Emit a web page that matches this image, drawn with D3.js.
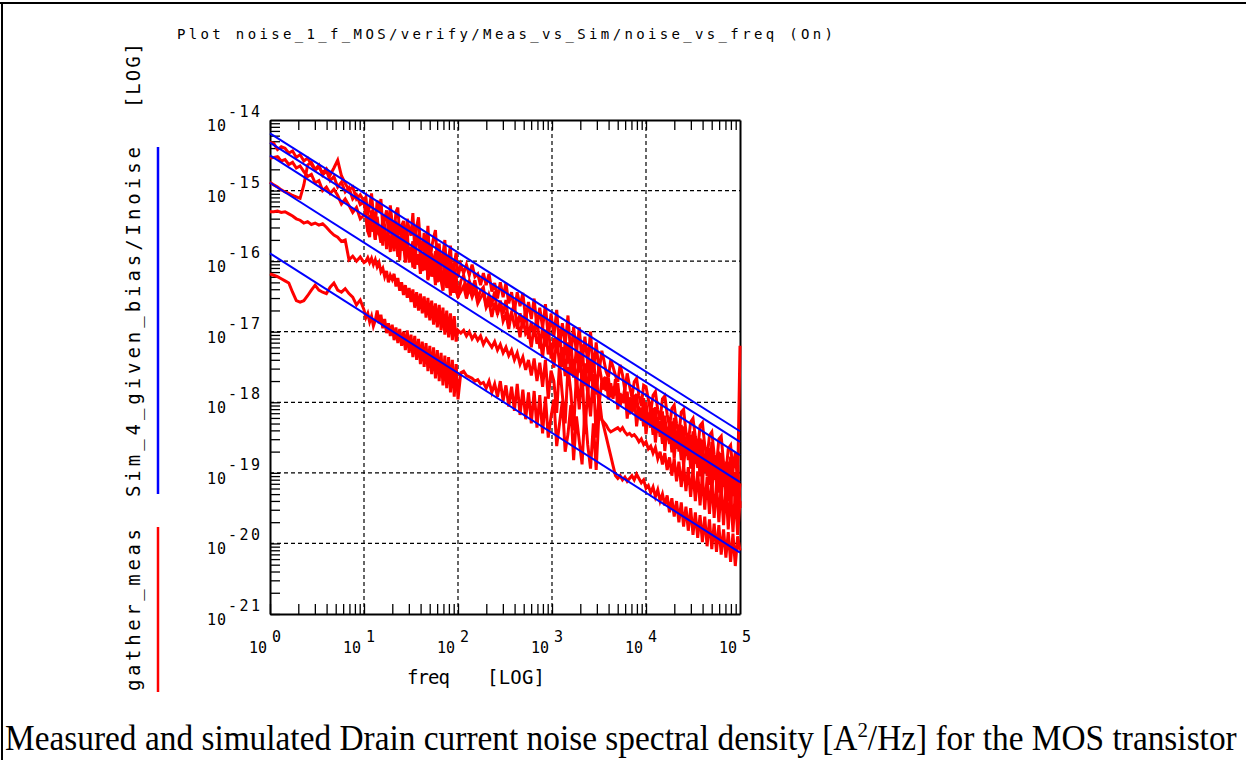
<!DOCTYPE html>
<html>
<head>
<meta charset="utf-8">
<style>
body { margin: 0; background: #fff; }
svg { display: block; }
.mono { font-family: "DejaVu Sans Mono", monospace; fill: #000; }
.caption { font-family: "Liberation Serif", "Times New Roman", serif; fill: #000; }
</style>
</head>
<body>
<script src="https://d3js.org/d3.v7.min.js"></script>
<svg id="chart" width="1246" height="760"></svg>
<script>
// tick labels
const xDecades = [1, 10, 100, 1000, 10000, 100000];
const xExp = ["0", "1", "2", "3", "4", "5"];
const yDecades = [1e-14, 1e-15, 1e-16, 1e-17, 1e-18, 1e-19, 1e-20, 1e-21];
const yExp = ["-14", "-15", "-16", "-17", "-18", "-19", "-20", "-21"];

// simulated noise (straight lines on log-log), value at 1 Hz and 100 kHz
const simFreq = [1, 1e5];
const sim1 = [6.46e-15, 3.89e-19];
const sim2 = [4.79e-15, 2.75e-19];
const sim3 = [3.16e-15, 1.78e-19];
const sim4 = [1.29e-15, 7.41e-20];
const sim5 = [1.29e-16, 7.41e-21];

// measured noise: log10(freq) and log10(noise)
const logFreq = [0,0.04,0.08,0.12,0.16,0.2,0.24,0.28,0.32,0.36,0.4,0.44,0.48,0.52,0.56,0.6,0.64,0.68,0.72,0.76,0.8,0.84,0.88,0.92,0.96,1,
1.02,1.04,1.06,1.08,1.1,1.12,1.14,1.16,1.18,1.2,1.22,1.24,1.26,1.28,1.3,1.32,1.34,1.36,1.38,1.4,1.42,1.44,1.46,1.48,1.5,1.52,1.54,1.56,1.58,1.6,1.62,1.64,1.66,1.68,1.7,1.72,1.74,1.76,1.78,1.8,1.82,1.84,1.86,1.88,1.9,1.92,1.94,1.96,1.98,2,
2.03,2.06,2.09,2.12,2.15,2.18,2.21,2.24,2.27,2.3,2.33,2.36,2.39,2.42,2.45,2.48,2.51,2.54,2.57,2.6,2.63,2.66,2.69,2.72,2.75,2.78,2.81,2.84,2.87,2.9,2.93,2.96,2.99,3.02,3.05,3.08,3.11,3.14,3.17,3.2,3.23,3.26,3.29,3.32,3.35,3.38,3.41,3.44,3.47,3.5,3.53,
3.55,3.575,3.6,3.625,3.65,3.675,3.7,3.725,3.75,3.775,3.8,3.825,3.85,3.875,3.9,3.925,3.95,3.975,4,4.025,4.05,4.075,4.1,4.125,4.15,4.175,4.2,4.225,4.25,4.275,4.3,4.325,4.35,4.375,4.4,4.425,4.45,4.475,4.5,4.525,4.55,4.575,4.6,4.625,4.65,4.675,4.7,4.725,4.75,4.775,4.8,4.825,4.85,4.875,4.9,4.925,4.95,4.975,5];

const meas1 = [-14.32,-14.33,-14.42,-14.38,-14.40,-14.47,-14.44,-14.53,-14.49,-14.58,-14.54,-14.63,-14.71,-14.67,-14.75,-14.69,-14.78,-14.68,-14.57,-14.79,-14.90,-14.99,-14.95,-15.12,-15.06,-15.15,
-15.09,-15.35,-15.22,-15.04,-15.34,-15.49,-15.14,-15.30,-15.12,-15.52,-15.40,-15.28,-15.62,-15.21,-15.46,-15.64,-15.30,-15.24,-15.63,-15.50,-15.43,-15.82,-15.40,-15.55,-15.64,-15.32,-15.85,-15.51,-15.38,-15.75,-15.86,-15.60,-15.93,-15.50,-16.05,-15.80,-15.67,-15.56,-16.02,-15.75,-16.11,-15.90,-15.70,-16.20,-15.95,-15.78,-16.31,-16.05,-15.88,-16.22,
-16.05,-16.17,-16.05,-16.20,-16.05,-16.22,-16.18,-16.34,-16.17,-16.34,-16.18,-16.43,-16.31,-16.53,-16.30,-16.51,-16.31,-16.60,-16.44,-16.71,-16.44,-16.64,-16.45,-16.83,-16.58,-16.82,-16.53,-16.95,-16.66,-16.95,-16.61,-17.09,-16.74,-17.07,-16.69,-17.22,-16.88,-17.19,-16.77,-17.34,-16.93,-17.31,-16.94,-17.46,-17.07,-17.45,-17.00,-17.58,-17.15,-17.58,-17.27,
-17.39,-17.56,-17.65,-17.40,-17.50,-17.62,-17.71,-17.47,-17.61,-17.83,-17.59,-17.77,-17.93,-17.71,-17.66,-17.90,-18.05,-17.76,-17.78,-17.96,-18.14,-17.90,-17.85,-18.11,-18.25,-17.95,-17.91,-18.17,-18.35,-18.09,-18.04,-18.30,-18.46,-18.14,-18.10,-18.42,-18.57,-18.28,-18.23,-18.49,-18.69,-18.33,-18.29,-18.61,-18.79,-18.47,-18.42,-18.74,-18.90,-18.52,-18.48,-18.86,-19.01,-18.66,-18.61,-18.97,-18.71,-19.15,-17.20];

const meas2 = [-14.54,-14.53,-14.52,-14.58,-14.56,-14.63,-14.60,-14.68,-14.65,-14.73,-14.80,-14.77,-14.89,-14.86,-15.00,-14.95,-15.04,-14.98,-15.07,-15.19,-15.12,-15.21,-15.31,-15.24,-15.40,-15.35,
-15.32,-15.58,-15.66,-15.28,-15.44,-15.70,-15.37,-15.59,-15.74,-15.35,-15.50,-15.83,-15.60,-15.45,-15.67,-15.86,-15.43,-15.62,-15.99,-15.53,-15.84,-15.63,-15.58,-16.02,-15.86,-15.72,-16.11,-15.69,-15.64,-15.95,-16.14,-15.86,-15.75,-16.27,-16.11,-15.89,-16.14,-15.86,-16.30,-15.91,-16.27,-16.42,-15.87,-16.04,-16.30,-15.98,-16.45,-16.07,-16.43,-16.50,
-16.43,-16.35,-16.53,-16.38,-16.51,-16.40,-16.60,-16.52,-16.45,-16.66,-16.58,-16.79,-16.59,-16.74,-16.60,-16.85,-16.75,-16.96,-16.72,-16.91,-16.84,-17.08,-16.79,-17.03,-16.98,-17.22,-16.91,-17.17,-17.04,-17.37,-16.97,-17.32,-17.16,-17.51,-17.09,-17.46,-17.22,-17.63,-17.15,-17.60,-17.39,-17.77,-17.28,-17.72,-17.45,-17.89,-17.40,-17.86,-17.61,-18.04,-17.70,
-17.67,-17.84,-17.66,-17.93,-17.78,-17.90,-17.73,-18.05,-17.89,-18.01,-17.85,-18.17,-17.93,-18.13,-17.88,-18.24,-18.08,-18.34,-18.00,-18.28,-18.12,-18.46,-18.07,-18.43,-18.27,-18.59,-18.19,-18.53,-18.31,-18.71,-18.22,-18.66,-18.46,-18.82,-18.34,-18.76,-18.46,-18.94,-18.41,-18.87,-18.65,-19.05,-18.53,-18.99,-18.65,-19.17,-18.56,-19.10,-18.84,-19.28,-18.72,-19.20,-18.84,-19.40,-18.77,-19.33,-18.99,-19.53,-19.15];

const meas3 = [-14.88,-14.92,-14.95,-14.99,-15.02,-15.04,-15.07,-15.09,-15.11,-14.92,-14.64,-14.60,-14.70,-14.64,-14.78,-14.72,-14.86,-14.80,-14.95,-14.88,-15.02,-14.96,-15.12,-15.06,-15.20,-15.16,
-15.37,-15.58,-15.35,-15.58,-15.48,-15.69,-15.43,-15.63,-15.52,-15.78,-15.52,-15.73,-15.63,-15.87,-15.55,-15.82,-15.66,-15.94,-15.65,-15.85,-15.75,-16.02,-15.70,-15.98,-15.80,-16.09,-15.75,-16.05,-15.90,-16.18,-15.88,-16.13,-15.87,-16.25,-15.97,-16.22,-16.06,-16.34,-15.97,-16.29,-16.09,-16.40,-16.06,-16.38,-16.18,-16.49,-16.11,-16.45,-16.20,-16.52,
-16.28,-16.20,-16.40,-16.28,-16.41,-16.27,-16.53,-16.42,-16.37,-16.64,-16.48,-16.61,-16.43,-16.76,-16.56,-16.75,-16.55,-16.90,-16.72,-16.61,-16.96,-16.74,-16.95,-16.69,-17.10,-16.86,-17.07,-16.77,-17.24,-16.93,-17.21,-16.90,-17.38,-17.09,-17.29,-16.96,-17.50,-17.15,-17.45,-17.12,-17.65,-17.23,-17.58,-17.18,-17.77,-17.41,-17.70,-17.30,-17.89,-17.46,-17.70,
-17.82,-17.64,-17.96,-17.73,-17.95,-17.67,-18.10,-17.87,-18.01,-17.79,-18.23,-17.93,-18.15,-17.89,-18.34,-18.06,-18.26,-17.94,-18.45,-18.16,-18.36,-18.08,-18.57,-18.21,-18.49,-18.13,-18.69,-18.35,-18.59,-18.27,-18.80,-18.40,-18.70,-18.32,-18.92,-18.54,-18.82,-18.46,-19.03,-18.59,-18.93,-18.51,-19.15,-18.73,-19.05,-18.65,-19.28,-18.78,-19.16,-18.70,-19.38,-18.92,-19.28,-18.84,-19.51,-18.97,-19.41,-18.89,-19.50];

const meas4 = [-15.30,-15.30,-15.29,-15.31,-15.30,-15.33,-15.36,-15.40,-15.42,-15.46,-15.44,-15.48,-15.46,-15.49,-15.47,-15.52,-15.58,-15.63,-15.66,-15.72,-15.70,-15.98,-15.93,-16.00,-15.94,-16.02,
-16.00,-15.95,-16.02,-15.96,-16.05,-15.98,-16.08,-16.02,-16.15,-16.10,-16.22,-16.14,-16.30,-16.20,-16.26,-16.18,-16.36,-16.24,-16.42,-16.30,-16.48,-16.34,-16.52,-16.38,-16.58,-16.40,-16.66,-16.44,-16.70,-16.46,-16.74,-16.50,-16.80,-16.52,-16.84,-16.56,-16.90,-16.60,-16.94,-16.62,-16.98,-16.66,-17.04,-16.70,-17.08,-16.74,-17.12,-16.78,-17.14,-16.98,
-17.02,-16.98,-17.06,-17.00,-17.10,-17.04,-17.12,-17.06,-17.18,-17.10,-17.16,-17.22,-17.14,-17.26,-17.18,-17.30,-17.22,-17.34,-17.26,-17.40,-17.30,-17.46,-17.36,-17.54,-17.40,-17.62,-17.38,-17.70,-17.44,-17.78,-17.40,-17.95,-17.55,-17.70,-18.15,-17.45,-17.90,-18.30,-17.50,-17.85,-18.40,-17.60,-18.10,-17.55,-18.45,-17.80,-18.20,-17.60,-18.50,-17.90,-18.25,
-18.28,-18.32,-18.38,-18.42,-18.40,-18.38,-18.36,-18.40,-18.36,-18.42,-18.46,-18.44,-18.48,-18.46,-18.50,-18.56,-18.52,-18.60,-18.56,-18.66,-18.62,-18.72,-18.64,-18.80,-18.70,-18.88,-18.72,-18.96,-18.78,-19.04,-18.80,-19.12,-18.84,-19.20,-18.88,-19.26,-18.92,-19.34,-18.96,-19.40,-18.98,-19.46,-19.02,-19.52,-19.06,-19.58,-19.10,-19.64,-19.14,-19.70,-19.18,-19.74,-19.20,-19.80,-19.24,-19.84,-19.26,-19.88,-19.40];

const meas5 = [-16.18,-16.20,-16.22,-16.25,-16.28,-16.31,-16.44,-16.56,-16.58,-16.56,-16.49,-16.41,-16.34,-16.41,-16.44,-16.46,-16.37,-16.31,-16.41,-16.44,-16.39,-16.46,-16.51,-16.62,-16.55,-16.69,
-16.80,-16.74,-16.86,-16.78,-16.92,-16.84,-16.70,-16.88,-16.76,-16.95,-16.82,-17.02,-16.88,-17.06,-16.90,-17.12,-16.94,-17.16,-16.96,-17.20,-17.00,-17.26,-16.98,-17.30,-17.04,-17.36,-17.06,-17.40,-17.10,-17.46,-17.14,-17.50,-17.16,-17.56,-17.20,-17.60,-17.22,-17.66,-17.26,-17.70,-17.30,-17.76,-17.34,-17.80,-17.36,-17.86,-17.40,-17.92,-17.46,-17.96,
-17.58,-17.56,-17.62,-17.64,-17.66,-17.70,-17.68,-17.74,-17.72,-17.80,-17.70,-17.86,-17.74,-17.92,-17.70,-17.98,-17.76,-18.06,-17.78,-18.12,-17.74,-18.18,-17.82,-18.24,-17.86,-18.30,-17.84,-18.36,-17.90,-18.44,-17.92,-18.50,-18.20,-17.96,-18.62,-18.30,-17.98,-18.70,-18.45,-18.04,-18.82,-18.20,-18.55,-18.88,-18.08,-18.60,-18.94,-18.30,-18.96,-18.14,-18.24,
-18.34,-18.48,-18.62,-18.76,-18.90,-19.04,-19.08,-19.04,-19.10,-19.06,-19.12,-19.08,-19.04,-19.10,-19.02,-19.08,-19.14,-19.10,-19.22,-19.18,-19.28,-19.20,-19.34,-19.24,-19.40,-19.30,-19.46,-19.32,-19.56,-19.36,-19.62,-19.40,-19.70,-19.42,-19.76,-19.48,-19.82,-19.50,-19.88,-19.56,-19.92,-19.60,-19.98,-19.62,-20.04,-19.66,-20.08,-19.72,-20.12,-19.74,-20.16,-19.80,-20.20,-19.84,-20.26,-19.86,-20.32,-19.90,-20.10];

const svg = d3.select("#chart");

// page frame (table cell edge)
svg.append("line").attr("x1", 0).attr("x2", 1246).attr("y1", 3).attr("y2", 3)
    .style("stroke", "#000").style("stroke-width", 2);
svg.append("line").attr("x1", 2).attr("x2", 2).attr("y1", 3).attr("y2", 760)
    .style("stroke", "#000").style("stroke-width", 2);

const pLeft = 270, pRight = 740, pTop = 120, pBottom = 614;
const x = d3.scaleLog().domain([1, 1e5]).range([pLeft, pRight]);
const y = d3.scaleLog().domain([1e-21, 1e-14]).range([pBottom, pTop]);

// minor + decade tick positions
const xTicks = [], yTicks = [];
for (let k = 0; k < 5; k++) for (let m = 1; m < 10; m++) xTicks.push(m * Math.pow(10, k));
for (let k = -21; k < -14; k++) for (let m = 1; m < 10; m++) yTicks.push(m * Math.pow(10, k));

// dashed decade grid
const grid = svg.append("g");
grid.selectAll("line.gx").data(xDecades.slice(1, -1)).enter().append("line")
    .attr("x1", d => x(d)).attr("x2", d => x(d)).attr("y1", pTop).attr("y2", pBottom)
    .style("stroke", "#000").style("stroke-width", 1.2).style("stroke-dasharray", "4,3");
grid.selectAll("line.gy").data(yDecades.slice(1, -1)).enter().append("line")
    .attr("x1", pLeft).attr("x2", pRight).attr("y1", d => y(d)).attr("y2", d => y(d))
    .style("stroke", "#000").style("stroke-width", 1.2).style("stroke-dasharray", "4,3");

// axes (ticks pointing into the plot)
const axisStyle = g => {
    g.selectAll("text").remove();
    g.selectAll("line").style("stroke", "#000").style("stroke-width", 1.3);
    g.select(".domain").style("stroke", "#000").style("stroke-width", 2);
};
svg.append("g").attr("transform", `translate(0,${pBottom})`)
    .call(d3.axisBottom(x).tickValues(xTicks).tickSize(-10).tickSizeOuter(0)).call(axisStyle);
svg.append("g").attr("transform", `translate(0,${pTop})`)
    .call(d3.axisTop(x).tickValues(xTicks).tickSize(-10).tickSizeOuter(0)).call(axisStyle);
svg.append("g").attr("transform", `translate(${pLeft},0)`)
    .call(d3.axisLeft(y).tickValues(yTicks).tickSize(-10).tickSizeOuter(0)).call(axisStyle);
svg.append("g").attr("transform", `translate(${pRight},0)`)
    .call(d3.axisRight(y).tickValues([]).tickSizeOuter(0)).call(axisStyle);

// measured traces
const line = d3.line().x(d => x(d[0])).y(d => y(d[1]));
const measured = [meas1, meas2, meas3, meas4, meas5];
const plot = svg.append("g");
measured.forEach(m => {
    const pts = logFreq.map((u, i) => [Math.pow(10, u), Math.pow(10, m[i])]);
    plot.append("path").datum(pts).attr("d", line)
        .style("fill", "none").style("stroke", "#ff0000").style("stroke-width", 3)
        .style("stroke-linejoin", "miter");
});

// simulated lines
[sim1, sim2, sim3, sim4, sim5].forEach(s => {
    plot.append("path").datum(simFreq.map((f, i) => [f, s[i]])).attr("d", line)
        .style("fill", "none").style("stroke", "#0000ff").style("stroke-width", 2);
});

// tick labels 10^n
xDecades.forEach((d, i) => {
    svg.append("text").attr("class", "mono").attr("x", x(d) - 3).attr("y", 653)
        .attr("text-anchor", "end").style("font-size", "15px")
        .attr("textLength", 18).attr("lengthAdjust", "spacing").text("10");
    svg.append("text").attr("class", "mono").attr("x", x(d) + 2).attr("y", 642)
        .style("font-size", "15px").text(xExp[i]);
});
yDecades.forEach((d, i) => {
    svg.append("text").attr("class", "mono").attr("x", 207).attr("y", y(d) + 11)
        .style("font-size", "15px").attr("textLength", 19).attr("lengthAdjust", "spacing")
        .text("10");
    svg.append("text").attr("class", "mono").attr("x", 228).attr("y", y(d) - 3)
        .style("font-size", "15px").attr("textLength", 32).attr("lengthAdjust", "spacing")
        .text(yExp[i]);
});

// title
svg.append("text").attr("class", "mono").attr("x", 177).attr("y", 39)
    .style("font-size", "14px").attr("textLength", 656).attr("lengthAdjust", "spacing")
    .text("Plot noise_1_f_MOS/verify/Meas_vs_Sim/noise_vs_freq (On)");

// x axis title
svg.append("text").attr("class", "mono").attr("x", 407).attr("y", 684)
    .style("font-size", "19px").attr("textLength", 43).attr("lengthAdjust", "spacing").text("freq");
svg.append("text").attr("class", "mono").attr("x", 487).attr("y", 684)
    .style("font-size", "19px").attr("textLength", 58).attr("lengthAdjust", "spacing").text("[LOG]");

// y axis title + legend
const vlabel = (txt, y0, len) => svg.append("text").attr("class", "mono")
    .attr("transform", `translate(140,${y0}) rotate(-90)`)
    .style("font-size", "19px").attr("textLength", len).attr("lengthAdjust", "spacing").text(txt);
vlabel("[LOG]", 108, 65);
vlabel("Sim_4_given_bias/Inoise", 497, 350);
vlabel("gather_meas", 691, 162);
svg.append("line").attr("x1", 158).attr("x2", 158).attr("y1", 147).attr("y2", 494)
    .style("stroke", "#0000ff").style("stroke-width", 2.5);
svg.append("line").attr("x1", 158).attr("x2", 158).attr("y1", 527).attr("y2", 692)
    .style("stroke", "#ff0000").style("stroke-width", 2.5);

// caption
const cap = svg.append("g");
const capText = cap.append("text").attr("class", "caption").attr("x", 0).attr("y", 0)
    .style("font-size", "35px");
capText.append("tspan").text("Measured and simulated Drain current noise spectral density [A");
capText.append("tspan").attr("dy", -13).style("font-size", "22px").text("2");
capText.append("tspan").attr("dy", 13).text("/Hz] for the MOS transistor");
const w = capText.node().getComputedTextLength();
cap.attr("transform", `translate(5,750) scale(${1232 / w},1)`);
</script>
</body>
</html>
